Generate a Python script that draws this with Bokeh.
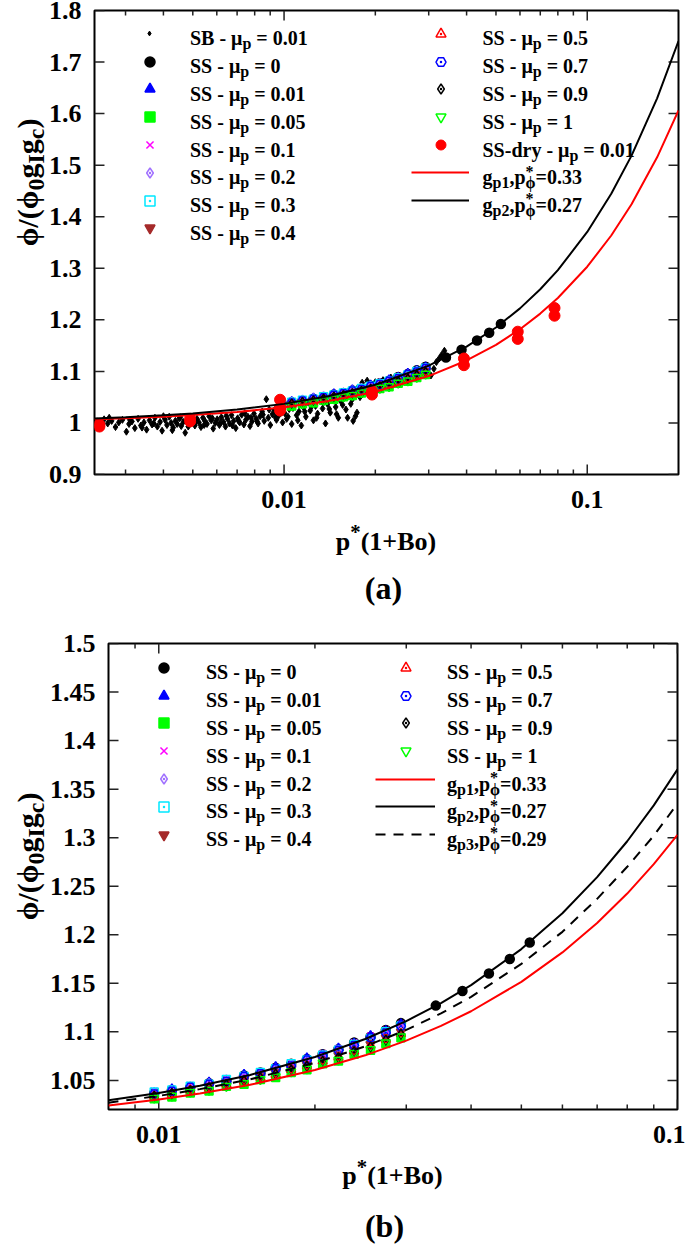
import glob, struct, math
from bokeh.plotting import figure
from bokeh.models import Label, Legend, LegendItem, Range1d, FixedTicker, CustomJSTickFormatter
from bokeh.core.properties import value
from bokeh.layouts import column, row
from bokeh.embed import file_html
from bokeh.resources import INLINE

# ---------------- data ----------------
XTICKS = [0.01, 0.1]
XMINOR_A = [0.003, 0.004, 0.005, 0.006, 0.007, 0.008, 0.009,
            0.02, 0.03, 0.04, 0.05, 0.06, 0.07, 0.08, 0.09]
XMINOR_B = [0.009, 0.02, 0.03, 0.04, 0.05, 0.06, 0.07, 0.08, 0.09]
YTICKS_A = [0.9, 1.0, 1.1, 1.2, 1.3, 1.4, 1.5, 1.6, 1.7, 1.8]
YTICKS_B = [1.05, 1.1, 1.15, 1.2, 1.25, 1.3, 1.35, 1.4, 1.45, 1.5]
XRANGE_A = (0.00237, 0.2)
YRANGE_A = (0.9, 1.8)
XRANGE_B = (0.008, 0.1)
YRANGE_B = (1.02, 1.5)

SB_X = [0.00242, 0.00248, 0.00255, 0.00262, 0.00270, 0.00278, 0.00285, 0.00293,
        0.00302, 0.00308, 0.00315, 0.00322, 0.00330, 0.00337, 0.00345, 0.00352, 0.00360, 0.00367, 0.00375, 0.00382, 0.00390, 0.00396,
        0.00405, 0.00411, 0.00418, 0.00424, 0.00431, 0.00438, 0.00444, 0.00451, 0.00458, 0.00465, 0.00472, 0.00479, 0.00486, 0.00493,
        0.00508, 0.00516, 0.00524, 0.00532, 0.00540, 0.00549, 0.00557, 0.00566, 0.00575, 0.00584, 0.00593, 0.00602, 0.00612, 0.00621, 0.00631, 0.00641, 0.00651, 0.00661, 0.00671, 0.00682, 0.00693,
        0.00703, 0.00714, 0.00725, 0.00737, 0.00748, 0.00760, 0.00772, 0.00784, 0.00796, 0.00809, 0.00821, 0.00834, 0.00847, 0.00860, 0.00874, 0.00887, 0.00901, 0.00915, 0.00930, 0.00944, 0.00959, 0.00974, 0.00989,
        0.01005, 0.0102, 0.0104, 0.0106, 0.0108, 0.0110, 0.0112, 0.0114, 0.0116, 0.0118, 0.0120, 0.0122, 0.0125, 0.0127, 0.0129, 0.0132, 0.0134, 0.0137, 0.0139,
        0.0142, 0.0145, 0.0148, 0.0151, 0.0154, 0.0157, 0.0160, 0.0163, 0.0166, 0.0169, 0.0172, 0.0175, 0.0178, 0.0181, 0.0184, 0.0188, 0.0191, 0.0195,
        0.0200, 0.0206, 0.0212, 0.0218, 0.0225, 0.0232, 0.0239, 0.0247, 0.0255, 0.0263, 0.0271, 0.0280, 0.0289,
        0.0305, 0.0312, 0.0318, 0.0325, 0.0331, 0.0338,
        0.00265, 0.00310, 0.00340, 0.00372, 0.00400, 0.00428, 0.00455, 0.00483, 0.00512, 0.00545,
        0.00580, 0.00615, 0.00645, 0.00676, 0.00708, 0.00742, 0.00778, 0.00815, 0.00852, 0.00893,
        0.00936, 0.00980, 0.0103, 0.0107, 0.0111, 0.0117, 0.0123, 0.0128, 0.0135, 0.0141,
        0.0149, 0.0156, 0.0162, 0.0168, 0.0174, 0.0183, 0.0197, 0.0215, 0.0236, 0.0260]
SB_Y = [1.003, 0.996, 1.007, 0.999, 1.004, 0.992, 1.001, 1.006,
        0.983, 0.998, 1.003, 0.990, 1.008, 0.995, 1.001, 0.987, 1.005, 0.997, 1.010, 0.993, 1.002, 0.985,
        1.006, 0.996, 1.012, 1.000, 0.991, 1.004, 0.998, 1.009, 0.994, 1.002, 0.981, 1.007, 0.999, 1.004,
        0.995, 1.008, 1.001, 0.992, 1.010, 1.003, 0.998, 1.013, 1.005, 0.989, 1.000, 1.007, 0.996, 1.011, 1.002, 0.993, 1.008, 0.999, 1.015, 1.004, 0.990,
        1.009, 1.001, 1.016, 0.997, 1.006, 1.012, 0.994, 1.003, 1.018, 1.008, 0.999, 1.013, 1.022, 1.004, 1.046, 1.010, 0.996, 1.017, 1.025, 1.006, 1.014, 1.030, 1.001,
        1.019, 1.008, 1.027, 0.998, 1.035, 1.015, 1.022, 0.995, 1.030, 1.012, 1.040, 1.024, 1.005, 1.033, 1.018, 1.045, 1.028, 0.999, 1.037,
        1.020, 1.048, 1.031, 1.010, 1.042, 1.055, 1.026, 1.060, 1.037, 1.004, 1.013, 1.068, 1.050, 1.078, 1.062, 1.082, 1.071, 1.056,
        1.079, 1.066, 1.083, 1.072, 1.088, 1.076, 1.085, 1.080, 1.092, 1.087, 1.096, 1.090, 1.099,
        1.092, 1.105, 1.118, 1.125, 1.132, 1.140,
        1.010, 1.006, 0.991, 0.999, 1.013, 0.986, 1.011, 0.993, 1.004, 0.996,
        1.009, 0.999, 1.014, 0.995, 1.004, 1.019, 1.010, 1.003, 1.016, 1.026,
        1.011, 1.020, 1.012, 1.029, 1.005, 1.022, 1.031, 1.010, 1.041, 1.027,
        1.017, 1.035, 1.010, 1.046, 1.020, 1.069, 1.074, 1.076, 1.082, 1.084]

SS_X = [0.0098, 0.0106, 0.0115, 0.0125, 0.0135, 0.0146, 0.0157, 0.0168,
        0.0180, 0.0193, 0.0207, 0.0222, 0.0238, 0.0256, 0.0274, 0.0293]
SS0_X = SS_X + [0.0342, 0.0385, 0.0433, 0.0475, 0.0519]
SS0_Y = [1.037, 1.040, 1.043, 1.047, 1.050, 1.055, 1.058, 1.063, 1.067, 1.072, 1.077, 1.082, 1.089, 1.095, 1.102, 1.109,
         1.127, 1.142, 1.160, 1.175, 1.192]
SS001_Y = [1.036, 1.041, 1.042, 1.048, 1.049, 1.056, 1.057, 1.064, 1.066, 1.073, 1.076, 1.083, 1.088, 1.096, 1.101, 1.108]
SS005_Y = [1.031, 1.033, 1.037, 1.039, 1.044, 1.046, 1.051, 1.053, 1.058, 1.061, 1.067, 1.070, 1.077, 1.081, 1.088, 1.094]
SS01_Y = [1.039, 1.041, 1.045, 1.047, 1.052, 1.055, 1.059, 1.063, 1.068, 1.072, 1.078, 1.083, 1.089, 1.096, 1.102, 1.108]
SS02_Y = [1.037, 1.039, 1.043, 1.046, 1.050, 1.053, 1.057, 1.061, 1.066, 1.070, 1.075, 1.080, 1.086, 1.092, 1.099, 1.105]
SS03_Y = [1.038, 1.040, 1.044, 1.046, 1.051, 1.054, 1.058, 1.062, 1.067, 1.071, 1.076, 1.081, 1.087, 1.093, 1.100, 1.106]
SS04_Y = [1.034, 1.037, 1.040, 1.043, 1.047, 1.050, 1.054, 1.058, 1.062, 1.066, 1.071, 1.076, 1.081, 1.087, 1.094, 1.100]
SS05_Y = [1.034, 1.036, 1.040, 1.042, 1.046, 1.049, 1.053, 1.056, 1.061, 1.065, 1.070, 1.074, 1.080, 1.086, 1.092, 1.098]
SS07_Y = [1.036, 1.039, 1.043, 1.046, 1.049, 1.054, 1.057, 1.062, 1.065, 1.071, 1.075, 1.081, 1.086, 1.094, 1.099, 1.106]
SS09_Y = [1.033, 1.036, 1.039, 1.042, 1.045, 1.049, 1.052, 1.056, 1.060, 1.064, 1.069, 1.073, 1.079, 1.084, 1.091, 1.097]
SS1_Y = [1.032, 1.034, 1.038, 1.040, 1.044, 1.047, 1.051, 1.054, 1.059, 1.062, 1.068, 1.071, 1.078, 1.082, 1.089, 1.095]

DRY_X = [0.00246, 0.00246, 0.0049, 0.0049, 0.0097, 0.0097, 0.0097, 0.0195, 0.0195,
         0.0392, 0.0392, 0.0590, 0.0590, 0.0780, 0.0780]
DRY_Y = [0.997, 0.993, 1.008, 1.003, 1.045, 1.030, 1.024, 1.062, 1.055,
         1.125, 1.112, 1.177, 1.163, 1.223, 1.208]

CA_X = [0.00237, 0.003, 0.004, 0.005, 0.007, 0.01, 0.014, 0.02, 0.03, 0.04, 0.05, 0.06, 0.07, 0.08,
        0.1, 0.12, 0.14, 0.17, 0.2]
CA_GP2 = [1.0088, 1.0111, 1.0148, 1.0185, 1.0259, 1.0370, 1.0519, 1.0741, 1.1111, 1.1481, 1.1852, 1.2222,
          1.2593, 1.2963, 1.3704, 1.4444, 1.5185, 1.6296, 1.7407]
CA_GP1 = [1.0072, 1.0091, 1.0121, 1.0152, 1.0212, 1.0303, 1.0424, 1.0606, 1.0909, 1.1212, 1.1515, 1.1818,
          1.2121, 1.2424, 1.3030, 1.3636, 1.4242, 1.5152, 1.6061]
CB_X = [0.008, 0.01, 0.012, 0.015, 0.02, 0.025, 0.03, 0.035, 0.04, 0.05, 0.06, 0.07, 0.08, 0.09, 0.1]
CB_GP2 = [1.0296, 1.0370, 1.0444, 1.0556, 1.0741, 1.0926, 1.1111, 1.1296, 1.1481, 1.1852, 1.2222, 1.2593,
          1.2963, 1.3333, 1.3704]
CB_GP1 = [1.0242, 1.0303, 1.0364, 1.0455, 1.0606, 1.0758, 1.0909, 1.1061, 1.1212, 1.1515, 1.1818, 1.2121,
          1.2424, 1.2727, 1.3030]
CB_GP3 = [1.027, 1.034, 1.041, 1.051, 1.068, 1.085, 1.102, 1.119, 1.136, 1.170, 1.203, 1.237, 1.270, 1.302, 1.335]

# ---------------- font metrics ----------------
FONT = "Liberation Serif"
FALLBACK = {' ': .25, '-': .333, '=': .57, '.': .25, ',': .25, 'S': .556, 'B': .667, 'p': .556, 'd': .556,
            'r': .444, 'y': .5, 'g': .5, 'I': .389, 'c': .444, 'o': .5, '(': .333, ')': .333, '+': .57,
            '*': .5, '/': .278, 'μ': .556, 'ϕ': .6, 'φ': .6, 'a': .5, 'b': .556}


def _parse_ttf(path):
    data = open(path, 'rb').read()
    n = struct.unpack('>H', data[4:6])[0]
    tabs = {}
    for i in range(n):
        o = 12 + 16 * i
        tag = data[o:o + 4].decode('latin1')
        _, toff, tlen = struct.unpack('>III', data[o + 4:o + 16])
        tabs[tag] = toff
    upem = struct.unpack('>H', data[tabs['head'] + 18:tabs['head'] + 20])[0]
    nhm = struct.unpack('>H', data[tabs['hhea'] + 34:tabs['hhea'] + 36])[0]
    hm = tabs['hmtx']
    adv = [struct.unpack('>H', data[hm + 4 * i:hm + 4 * i + 2])[0] for i in range(nhm)]
    cm = tabs['cmap']
    nsub = struct.unpack('>H', data[cm + 2:cm + 4])[0]
    for i in range(nsub):
        pid, eid, soff = struct.unpack('>HHI', data[cm + 4 + 8 * i:cm + 12 + 8 * i])
        st = cm + soff
        fmt = struct.unpack('>H', data[st:st + 2])[0]
        if fmt == 4 and (pid == 3 or pid == 0):
            s2 = struct.unpack('>H', data[st + 6:st + 8])[0]
            seg = s2 // 2
            ends = struct.unpack('>%dH' % seg, data[st + 14:st + 14 + s2])
            starts = struct.unpack('>%dH' % seg, data[st + 16 + s2:st + 16 + 2 * s2])
            deltas = struct.unpack('>%dh' % seg, data[st + 16 + 2 * s2:st + 16 + 3 * s2])
            rp = st + 16 + 3 * s2
            roffs = struct.unpack('>%dH' % seg, data[rp:rp + s2])

            def gid(c):
                for k in range(seg):
                    if starts[k] <= c <= ends[k]:
                        if roffs[k] == 0:
                            return (c + deltas[k]) & 0xFFFF
                        a = rp + 2 * k + roffs[k] + 2 * (c - starts[k])
                        g = struct.unpack('>H', data[a:a + 2])[0]
                        return (g + deltas[k]) & 0xFFFF if g else 0
                return 0

            return upem, adv, gid
    return None


METRICS = None
for _pth in glob.glob('/usr/share/fonts/**/LiberationSerif-Bold.ttf', recursive=True):
    try:
        METRICS = _parse_ttf(_pth)
        break
    except Exception:
        METRICS = None


def has_glyph(ch):
    if METRICS is None:
        return ch in FALLBACK
    return METRICS[2](ord(ch)) != 0


PHI = "ϕ" if has_glyph("ϕ") else "φ"


def char_w(ch):
    if METRICS is not None:
        upem, adv, gid = METRICS
        g = gid(ord(ch))
        if g:
            return adv[min(g, len(adv) - 1)] / upem
    return FALLBACK.get(ch, 0.5)


def text_w(s, fs):
    return sum(char_w(c) for c in s) * fs


SUBF, SUBD = 0.8, 0.25
BASE_CORR = 0.12   # the label box adds half a line gap above the baseline


def seg_parts(seg, size, supu):
    if seg[0] == "n":
        return [(seg[1], size, 0.0)]
    if seg[0] == "sub":
        return [(seg[1], size * SUBF, size * SUBD)]
    if seg[0] == "sup":
        return [(seg[1], size * SUBF, -size * supu)]
    return [(seg[1], size * SUBF, size * SUBD), (seg[2], size * SUBF, -size * supu)]


def rich_width(segs, size, supu=0.4):
    return sum(max(text_w(t, fs) for t, fs, _ in seg_parts(s, size, supu)) for s in segs)


def rich(p, OX, OY, X, Y, segs, size, angle_deg=0.0, color="black", supu=0.4):
    """Text with sub/superscripts; (X, Y) = page position of the start of the baseline,
    (OX, OY) = page position of the bottom-left corner of the frame the text lives in."""
    th = math.radians(angle_deg)
    dx, dy = math.cos(th), -math.sin(th)
    nx, ny = math.sin(th), math.cos(th)
    adv = 0.0
    for s in segs:
        wmax = 0.0
        for t, fs, off in seg_parts(s, size, supu):
            lead = len(t) - len(t.lstrip(" "))
            a0 = adv + text_w(" " * lead, fs)
            tt = t.strip(" ")
            o2 = off - BASE_CORR * fs
            px = X + dx * a0 + nx * o2
            py = Y + dy * a0 + ny * o2
            p.add_layout(Label(x=px - OX, y=OY - py, x_units="screen", y_units="screen", text=tt,
                               angle=th, text_font=FONT, text_font_style="bold",
                               text_font_size="%.1fpx" % fs, text_color=color,
                               text_align="left", text_baseline="alphabetic"))
            wmax = max(wmax, text_w(t, fs))
        adv += wmax


def legend_entry(p, r, FL, FB, cx, cy, gw, gh):
    leg = Legend(items=[LegendItem(label=value(" "), renderers=[r])],
                 location=(cx - FL - gw / 2.0, FB - cy - gh / 2.0),
                 glyph_width=int(gw), glyph_height=int(gh), label_height=int(gh), label_width=1,
                 label_standoff=0, padding=0, margin=0, spacing=0,
                 border_line_color=None, background_fill_alpha=0,
                 label_text_font_size="1px")
    p.add_layout(leg)


def strip(w, h):
    f = figure(width=w, height=h, min_border=0, x_axis_location=None, y_axis_location=None,
               toolbar_location=None, output_backend="svg", x_range=Range1d(0, 1), y_range=Range1d(0, 1))
    f.outline_line_color = None
    f.grid.visible = False
    f.background_fill_color = "white"
    f.border_fill_color = "white"
    return f


def label_axis(ax, standoff):
    ax.axis_line_color = None
    ax.major_tick_line_color = None
    ax.minor_tick_line_color = None
    ax.major_tick_in = 0
    ax.major_tick_out = 0
    ax.minor_tick_in = 0
    ax.minor_tick_out = 0
    ax.major_label_standoff = standoff
    ax.major_label_text_font = FONT
    ax.major_label_text_font_style = "bold"
    ax.major_label_text_font_size = "26px"
    ax.major_label_text_color = "black"


def make_panel(w, h, left, right, top, bottom, xr, yr, xminor, yticks, fw, fh):
    p = figure(width=w, height=h, x_axis_type="log", x_range=Range1d(*xr), y_range=Range1d(*yr),
               output_backend="svg", toolbar_location=None, min_border_left=left,
               min_border_right=right, min_border_top=top, min_border_bottom=bottom)
    p.grid.visible = False
    p.outline_line_color = "black"
    p.outline_line_width = 2
    p.background_fill_color = "white"
    p.border_fill_color = "white"
    xa = p.xaxis[0]
    xa.ticker = FixedTicker(ticks=XTICKS, minor_ticks=[])
    xa.formatter = CustomJSTickFormatter(code="return String(tick);")
    label_axis(xa, 16)
    ya = p.yaxis[0]
    ya.ticker = FixedTicker(ticks=yticks, minor_ticks=[])
    ya.formatter = CustomJSTickFormatter(code="return String(Number(tick.toFixed(2)));")
    label_axis(ya, 13)
    # tick marks on all four sides, from the tick lists
    dec = math.log10(xr[1] / xr[0])
    ypx = (yr[1] - yr[0]) / fh
    for ticks, L in ((XTICKS, 10), (xminor, 5)):
        p.segment(ticks, [yr[0]] * len(ticks), ticks, [yr[0] + L * ypx] * len(ticks),
                  line_color="#222222", line_width=1.5)
        p.segment(ticks, [yr[1]] * len(ticks), ticks, [yr[1] - L * ypx] * len(ticks),
                  line_color="#222222", line_width=1.5)
    f = 10 ** (10 * dec / fw)
    p.segment([xr[0]] * len(yticks), yticks, [xr[0] * f] * len(yticks), yticks,
              line_color="#222222", line_width=1.5)
    p.segment([xr[1]] * len(yticks), yticks, [xr[1] / f] * len(yticks), yticks,
              line_color="#222222", line_width=1.5)
    return p


def ss_series(p):
    specs = [
        ("0", SS0_X, SS0_Y, "circle", "black", True, 9),
        ("0.01", SS_X, SS001_Y, "triangle", "#0000ff", True, 9),
        ("0.05", SS_X, SS005_Y, "square", "#00ff00", True, 8),
        ("0.1", SS_X, SS01_Y, "x", "#ff00ff", False, 9),
        ("0.2", SS_X, SS02_Y, "diamond_dot", "#a070ff", False, 11),
        ("0.3", SS_X, SS03_Y, "square_dot", "#00e8ff", False, 8),
        ("0.4", SS_X, SS04_Y, "inverted_triangle", "#a52a2a", True, 9),
        ("0.5", SS_X, SS05_Y, "triangle_dot", "#ff0000", False, 9),
        ("0.7", SS_X, SS07_Y, "hex_dot", "#0000ff", False, 9),
        ("0.9", SS_X, SS09_Y, "diamond_dot", "black", False, 11),
        ("1", SS_X, SS1_Y, "inverted_triangle", "#00ff00", False, 9),
    ]
    out = {}
    for mu, xs, ys, mk, col, filled, sz in specs:
        n = min(len(xs), len(ys))
        r = p.scatter(xs[:n], ys[:n], marker=mk, size=sz,
                      line_color=col, fill_color=col if filled else None, line_width=1.5)
        out[mu] = r
    return out


LEFT_MUS = ["0", "0.01", "0.05", "0.1", "0.2", "0.3", "0.4"]
RIGHT_MUS = ["0.5", "0.7", "0.9", "1"]


def mu_segs(prefix, mu):
    return [("n", prefix + " - μ"), ("sub", "p"), ("n", " = " + mu)]


def gp_segs(k, val):
    return [("n", "g"), ("sub", "p%d" % k), ("n", ",p"), ("subsup", PHI, "*"), ("n", "=" + val)]


YLAB = [("n", PHI + "/(" + PHI), ("sub", "0"), ("n", "g"), ("sub", "I"), ("n", "g"), ("sub", "c"), ("n", ")")]
XLAB = [("n", "p"), ("sup", "*"), ("n", "(1+Bo)")]
YFS = 30

# Page coordinates below are those of the picture (the page body has no margin).
# ================= panel (a): frame x 93..678, y 10..474 =================
FLa, FTa, FWa, FHa = 93, 10, 585, 464
FBa = FTa + FHa
pa = make_panel(640, 520, 48, 7, 10, 46, XRANGE_A, YRANGE_A, XMINOR_A, YTICKS_A, FWa, FHa)
nsb = min(len(SB_X), len(SB_Y))
r_sb = pa.scatter(SB_X[:nsb], SB_Y[:nsb], marker="diamond", size=7, color="black")
rs_a = ss_series(pa)
nd = min(len(DRY_X), len(DRY_Y))
r_dry = pa.scatter(DRY_X[:nd], DRY_Y[:nd], marker="circle", size=11, color="#ff0000")
r_g1a = pa.line(CA_X, CA_GP1, line_color="#ff0000", line_width=2)
r_g2a = pa.line(CA_X, CA_GP2, line_color="black", line_width=2)

rows_a = [33.3 + 27.8 * i for i in range(8)]
legend_entry(pa, r_sb, FLa, FBa, 148, rows_a[0], 12, 12)
rich(pa, FLa, FBa, 188.5, rows_a[0] + 7, mu_segs("SB", "0.01"), 20)
for i, mu in enumerate(LEFT_MUS):
    legend_entry(pa, rs_a[mu], FLa, FBa, 148, rows_a[i + 1], 25, 25)
    rich(pa, FLa, FBa, 188.5, rows_a[i + 1] + 7, mu_segs("SS", mu), 20)
for i, mu in enumerate(RIGHT_MUS):
    legend_entry(pa, rs_a[mu], FLa, FBa, 439, rows_a[i], 25, 25)
    rich(pa, FLa, FBa, 481, rows_a[i] + 7, mu_segs("SS", mu), 20)
legend_entry(pa, r_dry, FLa, FBa, 439, rows_a[4], 25, 25)
rich(pa, FLa, FBa, 481, rows_a[4] + 7, mu_segs("SS-dry", "0.01"), 20)
legend_entry(pa, r_g1a, FLa, FBa, 439, rows_a[5], 58, 20)
rich(pa, FLa, FBa, 481, rows_a[5] + 7, gp_segs(1, "0.33"), 20, supu=0.34)
legend_entry(pa, r_g2a, FLa, FBa, 439, rows_a[6], 58, 20)
rich(pa, FLa, FBa, 481, rows_a[6] + 7, gp_segs(2, "0.27"), 20, supu=0.34)

# y-title strip (a): page x 0..45, y 0..520
la = strip(45, 520)
wy = rich_width(YLAB, YFS)
rich(la, 0, 520, 31, 228 + wy / 2, YLAB, YFS, angle_deg=90)

# caption strip (a): page y 520..615
ca = strip(685, 95)
wx = rich_width(XLAB, 26, 0.4)
rich(ca, 0, 615, 385.5 - wx / 2, 544, XLAB, 26, supu=0.4)
wa = text_w("(a)", 32)
rich(ca, 0, 615, 383 - wa / 2, 591.5, [("n", "(a)")], 32)

# ================= panel (b): frame x 108..677, y 643..1109 =================
FLb, FTb, FWb, FHb = 108, 643, 569, 466
FBb = FTb + FHb
pb = make_panel(640, 539, 63, 8, 28, 45, XRANGE_B, YRANGE_B, XMINOR_B, YTICKS_B, FWb, FHb)
rs_b = ss_series(pb)
r_g1b = pb.line(CB_X, CB_GP1, line_color="#ff0000", line_width=2)
r_g2b = pb.line(CB_X, CB_GP2, line_color="black", line_width=2)
r_g3b = pb.line(CB_X, CB_GP3, line_color="black", line_width=2, line_dash="10 8")

rows_b = [667.3 + 27.8 * i for i in range(7)]
for i, mu in enumerate(LEFT_MUS):
    legend_entry(pb, rs_b[mu], FLb, FBb, 163.5, rows_b[i], 25, 25)
    rich(pb, FLb, FBb, 205.5, rows_b[i] + 7, mu_segs("SS", mu), 20)
for i, mu in enumerate(RIGHT_MUS):
    legend_entry(pb, rs_b[mu], FLb, FBb, 405, rows_b[i], 25, 25)
    rich(pb, FLb, FBb, 446.5, rows_b[i] + 7, mu_segs("SS", mu), 20)
legend_entry(pb, r_g1b, FLb, FBb, 405, rows_b[4], 60, 20)
rich(pb, FLb, FBb, 446.5, rows_b[4] + 7, gp_segs(1, "0.33"), 20, supu=0.34)
legend_entry(pb, r_g2b, FLb, FBb, 405, rows_b[5], 60, 20)
rich(pb, FLb, FBb, 446.5, rows_b[5] + 7, gp_segs(2, "0.27"), 20, supu=0.34)
legend_entry(pb, r_g3b, FLb, FBb, 405, rows_b[6], 60, 20)
rich(pb, FLb, FBb, 446.5, rows_b[6] + 7, gp_segs(3, "0.29"), 20, supu=0.34)

# y-title strip (b): page x 0..45, y 615..1154
lb = strip(45, 539)
rich(lb, 0, 1154, 31, 901 + wy / 2, YLAB, YFS, angle_deg=90)

# caption strip (b): page y 1154..1244
cb = strip(685, 90)
rich(cb, 0, 1244, 392 - wx / 2, 1178.5, XLAB, 26, supu=0.4)
wb = text_w("(b)", 32)
rich(cb, 0, 1244, 384 - wb / 2, 1229, [("n", "(b)")], 32)

layout = column(row(la, pa, spacing=0), ca, row(lb, pb, spacing=0), cb, spacing=0)
open("out.html", "w").write(file_html(layout, INLINE))
